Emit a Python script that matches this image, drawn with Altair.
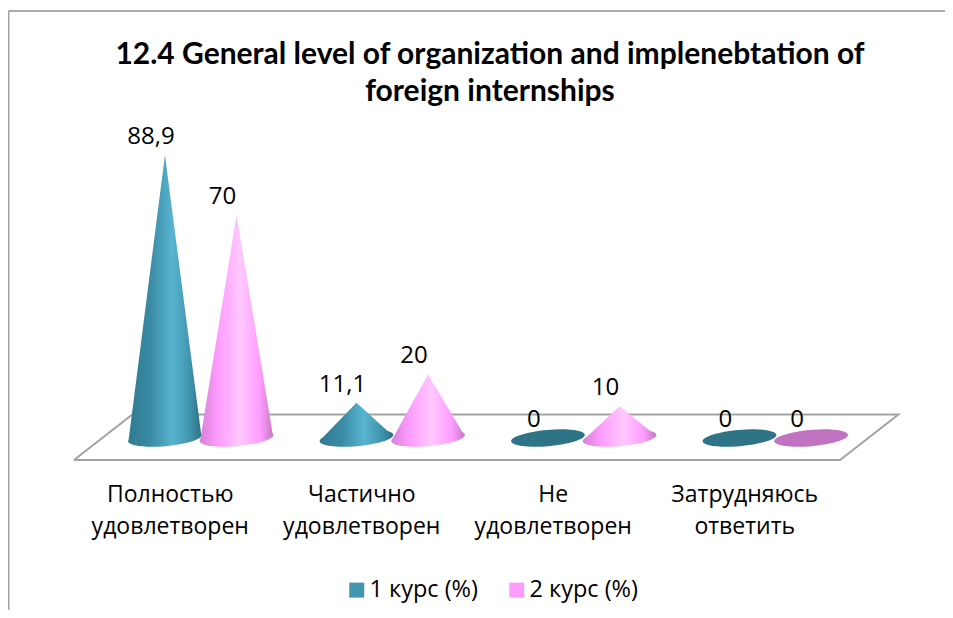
import altair as alt
import pandas as pd

TITLE = ["12.4 General level of organization and implenebtation of", "foreign internships"]
CATEGORIES = ["Полностью|удовлетворен", "Частично|удовлетворен", "Не|удовлетворен", "Затрудняюсь|ответить"]
SERIES = ["1 курс (%)", "2 курс (%)"]
VALUES_1 = [88.9, 11.1, 0, 0]
VALUES_2 = [70, 20, 10, 0]
LABELS_1 = ["88,9", "11,1", "0", "0"]
LABELS_2 = ["70", "20", "10", "0"]

DEPTH = 0.162      # cones stand halfway back on the floor
OFFSET = 0.187     # series offset inside a group
HALF = 0.19        # cone base half-width
TILT = 0.7         # slight tilt of the base
FLOOR_FRONT, FLOOR_BACK = -6.9, 7.4
FLOOR_SHIFT = 0.305

def centre(i, s):
    return i + 0.5 + DEPTH + (-OFFSET if s == 0 else OFFSET)

cone_rows, base_rows, flat_rows, label_rows = [], [], [], []
for s, (vals, labs) in enumerate(zip([VALUES_1, VALUES_2], [LABELS_1, LABELS_2])):
    for i, (v, lab) in enumerate(zip(vals, labs)):
        c = centre(i, s)
        label_rows.append(dict(x=c, y=v, label=lab))
        if v > 0:
            base_rows.append(dict(x=c, y=0, s=s))
            cid = f"{s}-{i}"
            cone_rows += [
                dict(cone=cid, s=s, x=c - HALF, y=-TILT, y2=-TILT),
                dict(cone=cid, s=s, x=c, y=v, y2=0),
                dict(cone=cid, s=s, x=c + HALF, y=TILT, y2=TILT),
            ]
        else:
            flat_rows.append(dict(x=c, y=0, s=s))

cones = pd.DataFrame(cone_rows)
bases = pd.DataFrame(base_rows)
flats = pd.DataFrame(flat_rows)
labels = pd.DataFrame(label_rows)
floor = pd.DataFrame([
    dict(o=0, x=0, y=FLOOR_FRONT),
    dict(o=1, x=len(CATEGORIES), y=FLOOR_FRONT),
    dict(o=2, x=len(CATEGORIES) + FLOOR_SHIFT, y=FLOOR_BACK),
    dict(o=3, x=FLOOR_SHIFT, y=FLOOR_BACK),
    dict(o=4, x=0, y=FLOOR_FRONT),
])
legend_df = pd.DataFrame(dict(series=SERIES, x=[1.0, 1.0], y=[0, 0]))
title_df = pd.DataFrame(dict(text=["\n".join(TITLE)]))

FONT = "Open Sans"
TEAL = alt.Gradient(gradient="linear", x1=0, x2=1, y1=0, y2=0, stops=[
    alt.GradientStop(offset=0, color="#2f7a90"),
    alt.GradientStop(offset=0.3, color="#3a8ba5"),
    alt.GradientStop(offset=0.6, color="#58b4d0"),
    alt.GradientStop(offset=0.85, color="#3f93ac"),
    alt.GradientStop(offset=1, color="#2c6f82"),
])
PINK = alt.Gradient(gradient="linear", x1=0, x2=1, y1=0, y2=0, stops=[
    alt.GradientStop(offset=0, color="#d880d8"),
    alt.GradientStop(offset=0.25, color="#ff9dff"),
    alt.GradientStop(offset=0.55, color="#ffc8ff"),
    alt.GradientStop(offset=0.82, color="#ff9dff"),
    alt.GradientStop(offset=1, color="#c878c8"),
])
GRADS = [TEAL, PINK]
FLAT = ["#2f7386", "#c073c0"]
ELLIPSE = "M-1,0A1,0.22 0 1,0 1,0A1,0.22 0 1,0 -1,0Z"
ELLIPSE_SIZE = 5476

x_scale = alt.Scale(domain=[0, len(CATEGORIES)], nice=False, zero=False)
y_scale = alt.Scale(domain=[-6.9, 103.06], nice=False, zero=False)
cat_js = "[" + ",".join(f"'{c}'" for c in CATEGORIES) + "]"
x_axis = alt.Axis(
    values=[i + 0.5 for i in range(len(CATEGORIES))],
    labelExpr=f"split({cat_js}[floor(datum.value)], '|')",
    domain=False, ticks=False, grid=False, title=None,
    labelFont=FONT, labelFontSize=23, labelColor="#000000",
    labelLineHeight=32, labelPadding=23, labelOverlap=False, labelFlush=False,
)
X = alt.X("x:Q", scale=x_scale, axis=x_axis)
Y = alt.Y("y:Q", scale=y_scale, axis=None)

floor_layer = alt.Chart(floor).mark_line(color="#a3a3a3", strokeWidth=2).encode(X, Y, order="o:Q")

layers = [floor_layer]
for s in [0, 1]:
    b = bases[bases.s == s]
    layers.append(alt.Chart(b).mark_point(
        shape=ELLIPSE, size=ELLIPSE_SIZE, filled=True, fill=GRADS[s], opacity=1,
        strokeWidth=0, angle=355).encode(X, Y))
    f = flats[flats.s == s]
    layers.append(alt.Chart(f).mark_point(
        shape=ELLIPSE, size=ELLIPSE_SIZE, filled=True, fill=FLAT[s], opacity=1,
        strokeWidth=0, angle=355).encode(X, Y))
    c = cones[cones.s == s]
    layers.append(alt.Chart(c).mark_area(fill=GRADS[s], opacity=1).encode(
        X, Y, y2="y2:Q", detail="cone:N"))

layers.append(alt.Chart(labels).mark_text(
    font=FONT, fontSize=24, color="#000000", dx=-14, dy=-18, baseline="middle"
).encode(X, Y, text="label:N"))

legend_layer = alt.Chart(legend_df).mark_point(
    shape="square", filled=True, opacity=0, strokeWidth=0
).encode(
    X, Y,
    color=alt.Color("series:N", scale=alt.Scale(domain=SERIES, range=["#4396b0", "#ff9dff"]),
        legend=alt.Legend(
            title=None, orient="none", direction="horizontal", legendX=271, legendY=468,
            symbolType="square", symbolSize=225, symbolStrokeWidth=0, symbolOpacity=1,
            labelFont=FONT, labelFontSize=23.5, labelColor="#000000",
            columnPadding=27, labelOffset=1,
        )),
)
layers.append(legend_layer)

frame_top = alt.Chart(title_df).mark_rule(color="#8f8f8f", strokeWidth=1.5).encode(
    x=alt.value(-65.5), x2=alt.value(871), y=alt.value(-99))
frame_left = alt.Chart(title_df).mark_rule(color="#a3a3a3", strokeWidth=2).encode(
    x=alt.value(-65.5), y=alt.value(-99), y2=alt.value(500))
title_layer = alt.Chart(title_df).mark_text(
    font="Lato", fontSize=30, fontWeight="bold", color="#000000", align="center",
    baseline="top", lineBreak="\n", lineHeight=37,
).encode(x=alt.value(416), y=alt.value(-70), text="text:N")
layers += [frame_top, frame_left, title_layer]

chart = alt.layer(*layers).resolve_scale(x="shared", y="shared").properties(
    width=766, height=350,
    padding={"left": 66, "top": 102, "right": 105, "bottom": 150},
    autosize=alt.AutoSizeParams(type="none"),
    background="#ffffff",
).configure_view(stroke=None)

chart.save("out.html", embed_options={"renderer": "svg", "actions": False})
